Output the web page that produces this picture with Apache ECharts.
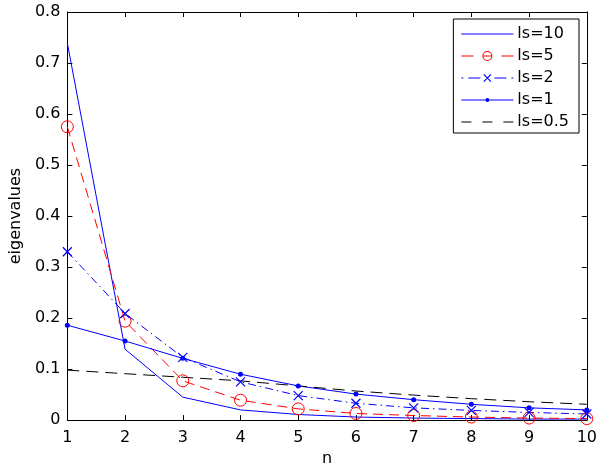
<!DOCTYPE html>
<html>
<head>
<meta charset="utf-8">
<script src="https://cdn.jsdelivr.net/npm/echarts@6/dist/echarts.min.js"></script>
<style>
  html, body { margin: 0; padding: 0; background: #fff; }
  #chart { width: 600px; height: 472px; }
</style>
</head>
<body>
<div id="chart"></div>
<script>
  // eigenvalue spectra for several length scales
  const nValues = [1, 2, 3, 4, 5, 6, 7, 8, 9, 10]
  const ls10 = [0.739, 0.139, 0.045, 0.020, 0.011, 0.006, 0.004, 0.003, 0.002, 0.002]
  const ls5 = [0.575, 0.194, 0.077, 0.039, 0.022, 0.013, 0.009, 0.006, 0.004, 0.003]
  const ls2 = [0.330, 0.209, 0.123, 0.075, 0.048, 0.033, 0.024, 0.019, 0.015, 0.012]
  const ls1 = [0.186, 0.155, 0.121, 0.090, 0.067, 0.051, 0.040, 0.031, 0.024, 0.020]
  const ls05 = [0.098, 0.091, 0.084, 0.077, 0.067, 0.057, 0.049, 0.042, 0.036, 0.031]
  const seriesNames = ['ls=10', 'ls=5', 'ls=2', 'ls=1', 'ls=0.5']

  const font = 'DejaVu Sans'
  const pairs = vals => vals.map((v, i) => [nValues[i], v])

  // legend icons drawn as filled paths in a 52x14 box (matlab style samples)
  const bar = (x0, x1) => `M${x0} 6.5L${x1} 6.5L${x1} 7.5L${x0} 7.5Z`
  const ring = (cx, r) => `M${cx + r} 7A${r} ${r} 0 1 1 ${cx - r} 7A${r} ${r} 0 1 1 ${cx + r} 7Z` +
    `M${cx + r - 1} 7A${r - 1} ${r - 1} 0 1 0 ${cx - r + 1} 7A${r - 1} ${r - 1} 0 1 0 ${cx + r - 1} 7Z`
  const dot = (cx, r) => `M${cx + r} 7A${r} ${r} 0 1 1 ${cx - r} 7A${r} ${r} 0 1 1 ${cx + r} 7Z`
  const cross = 'M22 3.8L22.8 3L30 10.2L29.2 11ZM29.2 3L30 3.8L22.8 11L22 10.2Z'
  const legendIcons = [
    bar(0, 52),
    bar(0, 12) + ring(26, 5) + bar(21.5, 30.5) + bar(40, 52),
    bar(0, 2) + bar(7, 19) + cross + bar(33, 45) + bar(50, 52),
    bar(0, 24) + dot(26, 2) + bar(28, 52),
    bar(0, 10) + bar(21, 31) + bar(42, 52)
  ]
  const legendColors = ['#0000ff', '#ff0000', '#0000ff', '#0000ff', '#000000']

  const boxAxis = (extra) => Object.assign({
    type: 'value',
    axisLine: { show: true, onZero: false, lineStyle: { color: '#000', width: 1 } },
    axisTick: { show: true, inside: true, length: 5, lineStyle: { color: '#000' } },
    splitLine: { show: false },
    axisLabel: { show: false }
  }, extra)

  const chart = echarts.init(document.getElementById('chart'))
  chart.setOption({
    animation: false,
    backgroundColor: '#fff',
    grid: { left: 60, right: 13, top: 12, bottom: 49 },
    xAxis: [
      boxAxis({
        min: 1, max: 10, interval: 1, position: 'bottom',
        axisLabel: { show: true, color: '#000', fontFamily: font, fontSize: 16, margin: 10 },
        name: 'n', nameLocation: 'middle', nameGap: 29,
        nameTextStyle: { color: '#000', fontFamily: font, fontSize: 16 }
      }),
      boxAxis({ min: 1, max: 10, interval: 1, position: 'top' })
    ],
    yAxis: [
      boxAxis({
        min: 0, max: 0.8, interval: 0.1, position: 'left',
        axisLabel: {
          show: true, color: '#000', fontFamily: font, fontSize: 16, margin: 7,
          formatter: v => String(+v.toFixed(1))
        },
        name: 'eigenvalues', nameLocation: 'middle', nameGap: 41,
        nameTextStyle: { color: '#000', fontFamily: font, fontSize: 16 }
      }),
      boxAxis({ min: 0, max: 0.8, interval: 0.1, position: 'right' })
    ],
    legend: {
      orient: 'vertical',
      right: 21,
      top: 19,
      padding: [7, 10, 3, 8],
      itemGap: 6,
      itemWidth: 52,
      itemHeight: 14,
      backgroundColor: '#fff',
      borderColor: '#000',
      borderWidth: 1,
      borderRadius: 0,
      itemStyle: { borderWidth: 0 },
      textStyle: { color: '#000', fontFamily: font, fontSize: 16, padding: [0, 0, 0, -1] },
      data: seriesNames.map((name, i) => ({
        name: name,
        icon: 'path://' + legendIcons[i],
        itemStyle: { color: legendColors[i], borderWidth: 0 }
      }))
    },
    series: [
      {
        name: seriesNames[0], type: 'line', data: pairs(ls10), clip: false,
        symbol: 'none',
        lineStyle: { color: '#0000ff', width: 1 },
        itemStyle: { color: '#0000ff' }
      },
      {
        name: seriesNames[1], type: 'line', data: pairs(ls5), clip: false,
        symbol: 'circle', symbolSize: 12,
        lineStyle: { color: '#ff0000', width: 1, type: [10, 6] },
        itemStyle: { color: 'transparent', borderColor: '#ff0000', borderWidth: 1 }
      },
      {
        name: seriesNames[2], type: 'line', data: pairs(ls2), clip: false,
        symbol: 'path://M0,0L10,10M10,0L0,10', symbolSize: 9,
        lineStyle: { color: '#0000ff', width: 1, type: [8, 4, 1.5, 4] },
        itemStyle: { color: 'none', borderColor: '#0000ff', borderWidth: 1.2 }
      },
      {
        name: seriesNames[3], type: 'line', data: pairs(ls1), clip: false,
        symbol: 'circle', symbolSize: 5,
        lineStyle: { color: '#0000ff', width: 1 },
        itemStyle: { color: '#0000ff', borderWidth: 0 }
      },
      {
        name: seriesNames[4], type: 'line', data: pairs(ls05), clip: false,
        symbol: 'none',
        lineStyle: { color: '#000', width: 1, type: [12, 7] },
        itemStyle: { color: '#000' }
      }
    ]
  })
</script>
</body>
</html>
